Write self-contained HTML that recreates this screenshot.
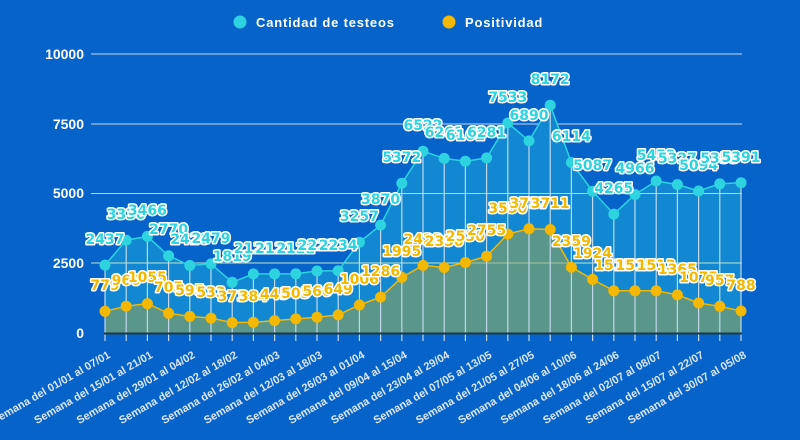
<!DOCTYPE html>
<html><head><meta charset="utf-8"><style>
html,body{margin:0;padding:0;background:#0563c9;}
svg{display:block;font-family:"Liberation Sans",sans-serif;}
.lt{font-family:"DejaVu Sans",sans-serif;font-size:14px;font-weight:bold;text-anchor:middle;stroke:#fff;stroke-width:3px;paint-order:stroke;stroke-linejoin:round;}
.c{fill:#2dd4e0}.g{fill:#f5b800}
.xl{font-size:11px;font-weight:bold;fill:#dce6f5;text-anchor:end}
.yl{font-size:14px;font-weight:bold;fill:#fff;text-anchor:end}
</style></head><body>
<svg width="800" height="440" viewBox="0 0 800 440">
<rect width="800" height="440" fill="#0563c9"/>
<circle cx="240" cy="22" r="6.5" fill="#2dd4e0"/>
<text x="256" y="27" font-size="13" font-weight="bold" fill="#fff" letter-spacing="0.8">Cantidad de testeos</text>
<circle cx="449" cy="22" r="6.5" fill="#f5b800"/>
<text x="465" y="27" font-size="13" font-weight="bold" fill="#fff" letter-spacing="0.8">Positividad</text>
<g stroke="#c8d4e8" stroke-width="1">
<line x1="91" y1="54" x2="742" y2="54"/>
<line x1="91" y1="124" x2="742" y2="124"/>
<line x1="91" y1="193.5" x2="742" y2="193.5"/>
<line x1="91" y1="263" x2="742" y2="263"/>
</g>
<text class="yl" x="84" y="59">10000</text>
<text class="yl" x="84" y="129">7500</text>
<text class="yl" x="84" y="198">5000</text>
<text class="yl" x="84" y="268">2500</text>
<text class="yl" x="84" y="338">0</text>
<polygon fill="#1288d2" points="105,333 105,265.1 126.2,240.2 147.4,236.4 168.6,255.8 189.8,265.5 211,263.9 232.2,282.3 253.4,273.9 274.6,273.9 295.8,273.8 317,271 338.2,270.7 359.4,242.2 380.6,225.1 401.8,183.2 423,151.2 444.2,158.4 465.4,161.2 486.6,157.9 507.8,123 529,140.9 550.2,105.2 571.4,162.5 592.6,191.2 613.8,214.1 635,194.5 656.2,181 677.4,184.5 698.6,191 719.8,183.8 741,182.7 741,333"/>
<line x1="91" y1="193.5" x2="742" y2="193.5" stroke="#a8d8f0" stroke-width="1"/>
<line x1="91" y1="263" x2="742" y2="263" stroke="#a8e0f0" stroke-width="1"/>
<polygon fill="#5a968a" points="105,333 105,311.3 126.2,306.2 147.4,303.6 168.6,313.3 189.8,316.4 211,318.1 232.2,322.6 253.4,322.3 274.6,320.6 295.8,318.9 317,317.2 338.2,314.9 359.4,305 380.6,297.1 401.8,277.4 423,265.4 444.2,267.5 465.4,262.5 486.6,256.2 507.8,234 529,228.8 550.2,229.5 571.4,267.2 592.6,279.4 613.8,290.8 635,290.8 656.2,290.8 677.4,294.9 698.6,303 719.8,306.3 741,311 741,333"/>
<line x1="91" y1="263" x2="742" y2="263" stroke="#d8e6a0" stroke-width="1" opacity="0.6"/>
<g stroke="#c0d8e8" stroke-width="1.2">
<line x1="105" y1="265" x2="105" y2="341"/><line x1="126.2" y1="240" x2="126.2" y2="341"/><line x1="147.4" y1="236" x2="147.4" y2="341"/><line x1="168.6" y1="256" x2="168.6" y2="341"/><line x1="189.8" y1="265" x2="189.8" y2="341"/><line x1="211" y1="264" x2="211" y2="341"/><line x1="232.2" y1="282" x2="232.2" y2="341"/><line x1="253.4" y1="274" x2="253.4" y2="341"/><line x1="274.6" y1="274" x2="274.6" y2="341"/><line x1="295.8" y1="274" x2="295.8" y2="341"/><line x1="317" y1="271" x2="317" y2="341"/><line x1="338.2" y1="271" x2="338.2" y2="341"/><line x1="359.4" y1="242" x2="359.4" y2="341"/><line x1="380.6" y1="225" x2="380.6" y2="341"/><line x1="401.8" y1="183" x2="401.8" y2="341"/><line x1="423" y1="151" x2="423" y2="341"/><line x1="444.2" y1="158" x2="444.2" y2="341"/><line x1="465.4" y1="161" x2="465.4" y2="341"/><line x1="486.6" y1="158" x2="486.6" y2="341"/><line x1="507.8" y1="123" x2="507.8" y2="341"/><line x1="529" y1="141" x2="529" y2="341"/><line x1="550.2" y1="105" x2="550.2" y2="341"/><line x1="571.4" y1="162" x2="571.4" y2="341"/><line x1="592.6" y1="191" x2="592.6" y2="341"/><line x1="613.8" y1="214" x2="613.8" y2="341"/><line x1="635" y1="194" x2="635" y2="341"/><line x1="656.2" y1="181" x2="656.2" y2="341"/><line x1="677.4" y1="184" x2="677.4" y2="341"/><line x1="698.6" y1="191" x2="698.6" y2="341"/><line x1="719.8" y1="184" x2="719.8" y2="341"/><line x1="741" y1="183" x2="741" y2="341"/>
</g>
<line x1="104" y1="333.5" x2="742" y2="333.5" stroke="#1d3a48" stroke-width="2"/>
<polyline fill="none" stroke="#2dd4e0" stroke-width="1.5" points="105,265.1 126.2,240.2 147.4,236.4 168.6,255.8 189.8,265.5 211,263.9 232.2,282.3 253.4,273.9 274.6,273.9 295.8,273.8 317,271 338.2,270.7 359.4,242.2 380.6,225.1 401.8,183.2 423,151.2 444.2,158.4 465.4,161.2 486.6,157.9 507.8,123 529,140.9 550.2,105.2 571.4,162.5 592.6,191.2 613.8,214.1 635,194.5 656.2,181 677.4,184.5 698.6,191 719.8,183.8 741,182.7"/>
<polyline fill="none" stroke="#f5b800" stroke-width="1.5" points="105,311.3 126.2,306.2 147.4,303.6 168.6,313.3 189.8,316.4 211,318.1 232.2,322.6 253.4,322.3 274.6,320.6 295.8,318.9 317,317.2 338.2,314.9 359.4,305 380.6,297.1 401.8,277.4 423,265.4 444.2,267.5 465.4,262.5 486.6,256.2 507.8,234 529,228.8 550.2,229.5 571.4,267.2 592.6,279.4 613.8,290.8 635,290.8 656.2,290.8 677.4,294.9 698.6,303 719.8,306.3 741,311"/>
<g fill="#2dd4e0">
<circle cx="105" cy="265.1" r="5.5"/><circle cx="126.2" cy="240.2" r="5.5"/><circle cx="147.4" cy="236.4" r="5.5"/><circle cx="168.6" cy="255.8" r="5.5"/><circle cx="189.8" cy="265.5" r="5.5"/><circle cx="211" cy="263.9" r="5.5"/><circle cx="232.2" cy="282.3" r="5.5"/><circle cx="253.4" cy="273.9" r="5.5"/><circle cx="274.6" cy="273.9" r="5.5"/><circle cx="295.8" cy="273.8" r="5.5"/><circle cx="317" cy="271" r="5.5"/><circle cx="338.2" cy="270.7" r="5.5"/><circle cx="359.4" cy="242.2" r="5.5"/><circle cx="380.6" cy="225.1" r="5.5"/><circle cx="401.8" cy="183.2" r="5.5"/><circle cx="423" cy="151.2" r="5.5"/><circle cx="444.2" cy="158.4" r="5.5"/><circle cx="465.4" cy="161.2" r="5.5"/><circle cx="486.6" cy="157.9" r="5.5"/><circle cx="507.8" cy="123" r="5.5"/><circle cx="529" cy="140.9" r="5.5"/><circle cx="550.2" cy="105.2" r="5.5"/><circle cx="571.4" cy="162.5" r="5.5"/><circle cx="592.6" cy="191.2" r="5.5"/><circle cx="613.8" cy="214.1" r="5.5"/><circle cx="635" cy="194.5" r="5.5"/><circle cx="656.2" cy="181" r="5.5"/><circle cx="677.4" cy="184.5" r="5.5"/><circle cx="698.6" cy="191" r="5.5"/><circle cx="719.8" cy="183.8" r="5.5"/><circle cx="741" cy="182.7" r="5.5"/>
</g>
<g fill="#f5b800">
<circle cx="105" cy="311.3" r="5.5"/><circle cx="126.2" cy="306.2" r="5.5"/><circle cx="147.4" cy="303.6" r="5.5"/><circle cx="168.6" cy="313.3" r="5.5"/><circle cx="189.8" cy="316.4" r="5.5"/><circle cx="211" cy="318.1" r="5.5"/><circle cx="232.2" cy="322.6" r="5.5"/><circle cx="253.4" cy="322.3" r="5.5"/><circle cx="274.6" cy="320.6" r="5.5"/><circle cx="295.8" cy="318.9" r="5.5"/><circle cx="317" cy="317.2" r="5.5"/><circle cx="338.2" cy="314.9" r="5.5"/><circle cx="359.4" cy="305" r="5.5"/><circle cx="380.6" cy="297.1" r="5.5"/><circle cx="401.8" cy="277.4" r="5.5"/><circle cx="423" cy="265.4" r="5.5"/><circle cx="444.2" cy="267.5" r="5.5"/><circle cx="465.4" cy="262.5" r="5.5"/><circle cx="486.6" cy="256.2" r="5.5"/><circle cx="507.8" cy="234" r="5.5"/><circle cx="529" cy="228.8" r="5.5"/><circle cx="550.2" cy="229.5" r="5.5"/><circle cx="571.4" cy="267.2" r="5.5"/><circle cx="592.6" cy="279.4" r="5.5"/><circle cx="613.8" cy="290.8" r="5.5"/><circle cx="635" cy="290.8" r="5.5"/><circle cx="656.2" cy="290.8" r="5.5"/><circle cx="677.4" cy="294.9" r="5.5"/><circle cx="698.6" cy="303" r="5.5"/><circle cx="719.8" cy="306.3" r="5.5"/><circle cx="741" cy="311" r="5.5"/>
</g>
<g class="lt c">
<text x="105" y="244">2437</text><text x="126.2" y="219">3330</text><text x="147.4" y="215">3466</text><text x="168.6" y="234">2770</text><text x="189.8" y="244">2420</text><text x="211" y="243">2479</text><text x="232.2" y="261">1819</text><text x="253.4" y="253">2121</text><text x="274.6" y="253">2121</text><text x="295.8" y="253">2122</text><text x="317" y="250">2222</text><text x="338.2" y="250">2234</text><text x="359.4" y="221">3257</text><text x="380.6" y="204">3870</text><text x="401.8" y="162">5372</text><text x="423" y="130">6522</text><text x="444.2" y="137">6261</text><text x="465.4" y="140">6161</text><text x="486.6" y="137">6281</text><text x="507.8" y="102">7533</text><text x="529" y="120">6890</text><text x="550.2" y="84">8172</text><text x="571.4" y="141">6114</text><text x="592.6" y="170">5087</text><text x="613.8" y="193">4265</text><text x="635" y="173">4966</text><text x="656.2" y="160">5453</text><text x="677.4" y="163">5327</text><text x="698.6" y="170">5094</text><text x="719.8" y="163">5353</text><text x="741" y="162">5391</text>
</g>
<g class="lt g">
<text x="105" y="290">779</text><text x="126.2" y="285">960</text><text x="147.4" y="282">1055</text><text x="168.6" y="292">705</text><text x="189.8" y="295">595</text><text x="211" y="297">533</text><text x="232.2" y="301">373</text><text x="253.4" y="301">384</text><text x="274.6" y="299">445</text><text x="295.8" y="298">505</text><text x="317" y="296">566</text><text x="338.2" y="294">649</text><text x="359.4" y="284">1006</text><text x="380.6" y="276">1286</text><text x="401.8" y="256">1995</text><text x="423" y="244">2423</text><text x="444.2" y="246">2350</text><text x="465.4" y="241">2530</text><text x="486.6" y="235">2755</text><text x="507.8" y="213">3550</text><text x="529" y="208">3737</text><text x="550.2" y="208">3711</text><text x="571.4" y="246">2359</text><text x="592.6" y="258">1924</text><text x="613.8" y="270">1515</text><text x="635" y="270">1515</text><text x="656.2" y="270">1513</text><text x="677.4" y="274">1365</text><text x="698.6" y="282">1075</text><text x="719.8" y="285">957</text><text x="741" y="290">788</text>
</g>
<g class="xl">
<text transform="translate(111,357) rotate(-30)">Semana del 01/01 al 07/01</text>
<text transform="translate(153.4,357) rotate(-30)">Semana del 15/01 al 21/01</text>
<text transform="translate(195.8,357) rotate(-30)">Semana del 29/01 al 04/02</text>
<text transform="translate(238.2,357) rotate(-30)">Semana del 12/02 al 18/02</text>
<text transform="translate(280.6,357) rotate(-30)">Semana del 26/02 al 04/03</text>
<text transform="translate(323,357) rotate(-30)">Semana del 12/03 al 18/03</text>
<text transform="translate(365.4,357) rotate(-30)">Semana del 26/03 al 01/04</text>
<text transform="translate(407.8,357) rotate(-30)">Semana del 09/04 al 15/04</text>
<text transform="translate(450.2,357) rotate(-30)">Semana del 23/04 al 29/04</text>
<text transform="translate(492.6,357) rotate(-30)">Semana del 07/05 al 13/05</text>
<text transform="translate(535,357) rotate(-30)">Semana del 21/05 al 27/05</text>
<text transform="translate(577.4,357) rotate(-30)">Semana del 04/06 al 10/06</text>
<text transform="translate(619.8,357) rotate(-30)">Semana del 18/06 al 24/06</text>
<text transform="translate(662.2,357) rotate(-30)">Semana del 02/07 al 08/07</text>
<text transform="translate(704.6,357) rotate(-30)">Semana del 15/07 al 22/07</text>
<text transform="translate(747,357) rotate(-30)">Semana del 30/07 al 05/08</text>
</g>
</svg>
</body></html>
